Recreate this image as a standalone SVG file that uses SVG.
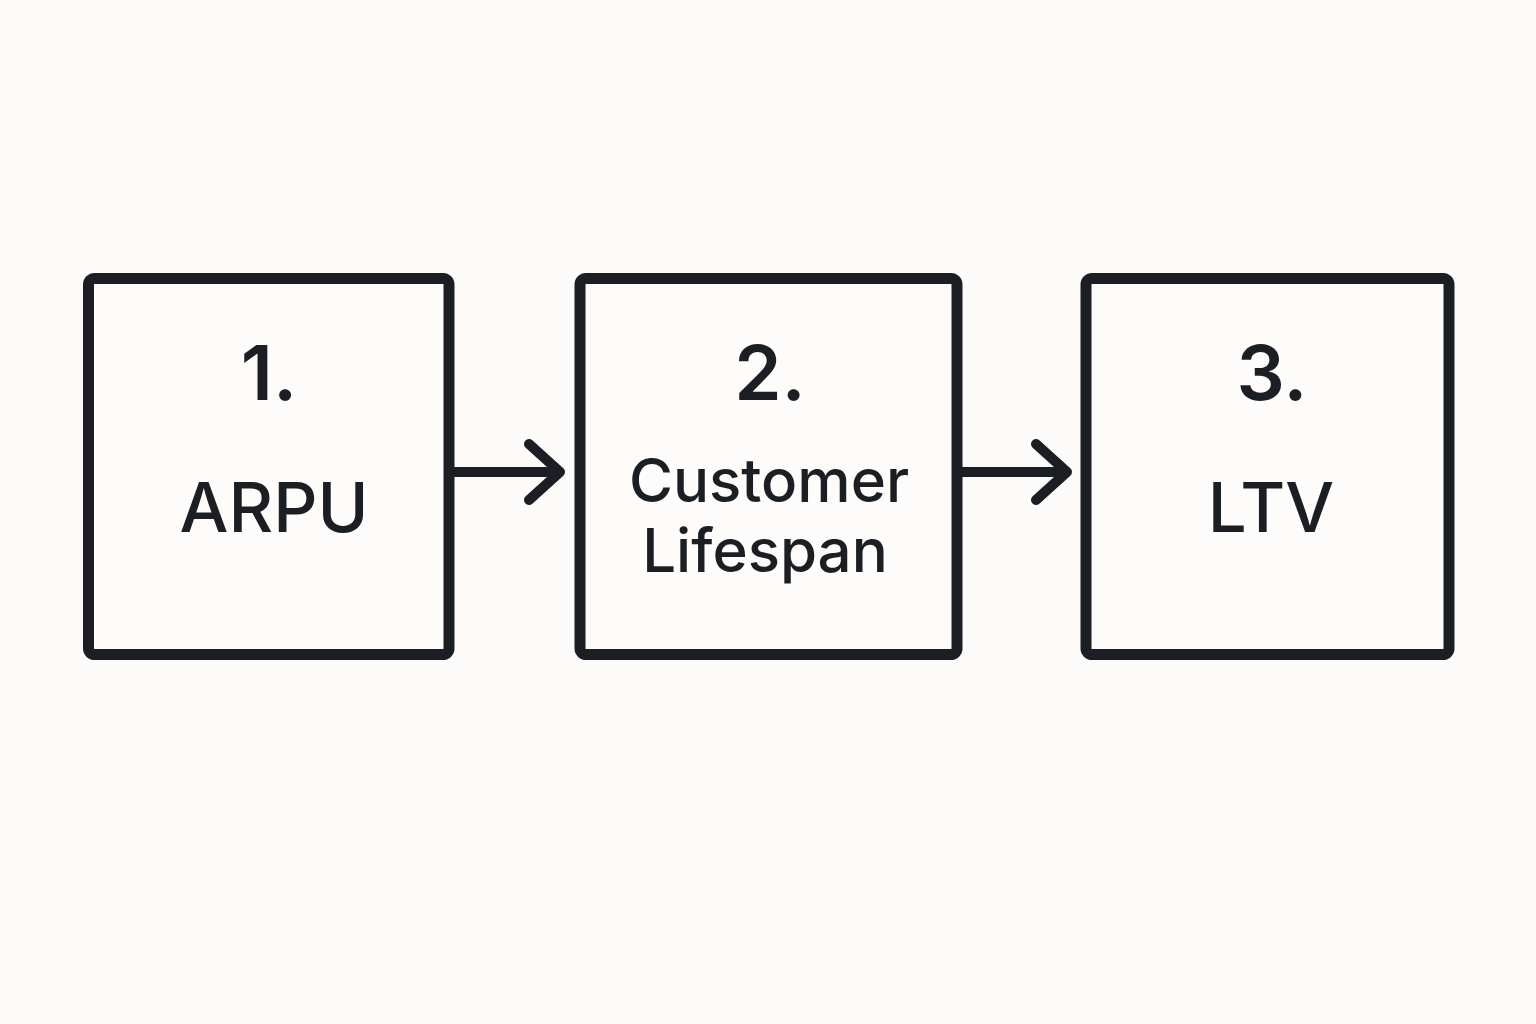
<svg xmlns="http://www.w3.org/2000/svg" width="1536" height="1024" viewBox="0 0 1536 1024">
<style>
.box{fill:#fdfcfa;stroke:#1b1e22;stroke-width:11}
.num{font-family:Inter,"Noto Sans",sans-serif;font-weight:600;font-size:76px;fill:#1b1e22;text-anchor:middle}
.lbl{font-family:Inter,"Noto Sans",sans-serif;font-weight:500;font-size:69px;fill:#1b1e22;text-anchor:middle}
.lbl2{font-family:Inter,"Noto Sans",sans-serif;font-weight:500;font-size:60px;fill:#1b1e22;text-anchor:middle}
.conn{fill:none;stroke:#1b1e22;stroke-width:10;stroke-linecap:round;stroke-linejoin:round}
</style>
<rect width="1536" height="1024" fill="#fcfbf9"/>
<g id="connectors">
<path class="conn" d="M455 472 H560 M529 444 L560 472 L529 500"/>
<path class="conn" d="M962 472 H1067 M1036 444 L1067 472 L1036 500"/>
</g>
<g id="node1">
<rect class="box" x="88.5" y="278.5" width="360.5" height="376" rx="6"/>
<text class="num" x="269" y="400">1.</text>
<text class="lbl" x="274" y="532">ARPU</text>
</g>
<g id="node2">
<rect class="box" x="580" y="278.5" width="377" height="376" rx="6"/>
<text class="num" x="770" y="400">2.</text>
<text class="lbl2" x="769" y="502">Customer</text>
<text class="lbl2" x="765" y="572">Lifespan</text>
</g>
<g id="node3">
<rect class="box" x="1086" y="278.5" width="363" height="376" rx="6"/>
<text class="num" x="1272" y="400">3.</text>
<text class="lbl" x="1271" y="532">LTV</text>
</g>
</svg>
